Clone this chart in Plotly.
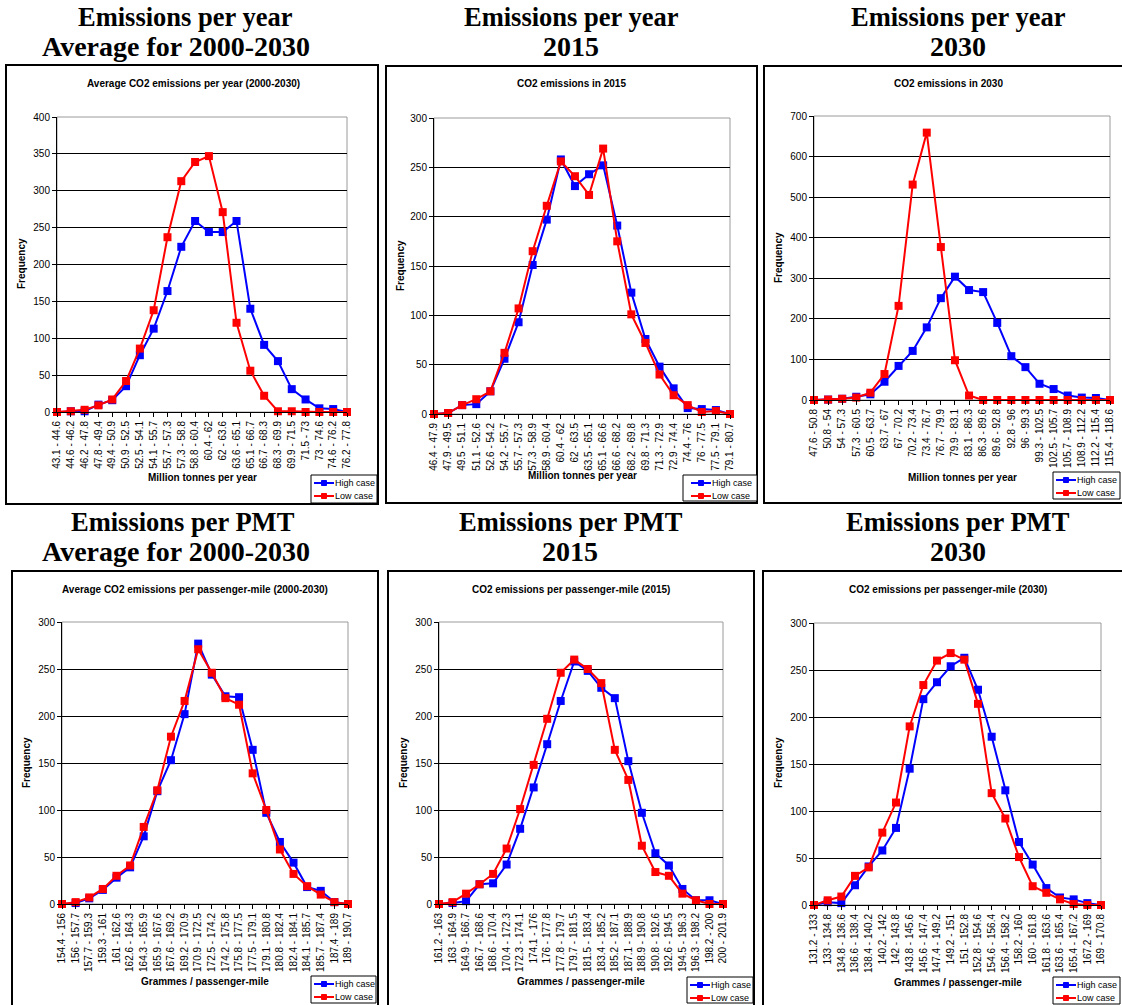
import plotly.graph_objects as go

W, H = 1122, 1005

# ---------------- DATA ----------------
cats1 = ["43.1 - 44.6", "44.6 - 46.2", "46.2 - 47.8", "47.8 - 49.4", "49.4 - 50.9", "50.9 - 52.5",
         "52.5 - 54.1", "54.1 - 55.7", "55.7 - 57.3", "57.3 - 58.8", "58.8 - 60.4", "60.4 - 62",
         "62 - 63.6", "63.6 - 65.1", "65.1 - 66.7", "66.7 - 68.3", "68.3 - 69.9", "69.9 - 71.5",
         "71.5 - 73", "73 - 74.6", "74.6 - 76.2", "76.2 - 77.8"]
high1 = [0, 1, 1, 10, 16, 35, 77, 113, 164, 224, 259, 244, 244, 259, 140, 91, 69, 31, 17, 5, 4, 0]
low1 = [0, 1, 3, 9, 17, 42, 86, 138, 237, 313, 339, 347, 271, 121, 56, 22, 1, 1, 0, 0, 0, 0]

cats2 = ["46.4 - 47.9", "47.9 - 49.5", "49.5 - 51.1", "51.1 - 52.6", "52.6 - 54.2", "54.2 - 55.7",
         "55.7 - 57.3", "57.3 - 58.9", "58.9 - 60.4", "60.4 - 62", "62 - 63.5", "63.5 - 65.1",
         "65.1 - 66.6", "66.6 - 68.2", "68.2 - 69.8", "69.8 - 71.3", "71.3 - 72.9", "72.9 - 74.4",
         "74.4 - 76", "76 - 77.5", "77.5 - 79.1", "79.1 - 80.7"]
high2 = [0, 1, 9, 10, 23, 56, 93, 151, 197, 258, 231, 243, 252, 191, 123, 76, 48, 26, 6, 5, 4, 0]
low2 = [0, 1, 9, 15, 23, 62, 107, 165, 211, 256, 241, 222, 269, 175, 101, 72, 40, 19, 9, 2, 3, 0]

cats3 = ["47.6 - 50.8", "50.8 - 54", "54 - 57.3", "57.3 - 60.5", "60.5 - 63.7", "63.7 - 67",
         "67 - 70.2", "70.2 - 73.4", "73.4 - 76.7", "76.7 - 79.9", "79.9 - 83.1", "83.1 - 86.3",
         "86.3 - 89.6", "89.6 - 92.8", "92.8 - 96", "96 - 99.3", "99.3 - 102.5", "102.5 - 105.7",
         "105.7 - 108.9", "108.9 - 112.2", "112.2 - 115.4", "115.4 - 118.6"]
high3 = [0, 1, 3, 8, 14, 45, 84, 121, 179, 251, 304, 271, 266, 190, 108, 81, 40, 27, 11, 6, 5, 0]
low3 = [0, 1, 3, 6, 18, 64, 232, 531, 659, 377, 98, 11, 0, 0, 0, 0, 0, 0, 0, 0, 0, 0]

cats4 = ["154.4 - 156", "156 - 157.7", "157.7 - 159.3", "159.3 - 161", "161 - 162.6", "162.6 - 164.3",
         "164.3 - 165.9", "165.9 - 167.6", "167.6 - 169.2", "169.2 - 170.9", "170.9 - 172.5",
         "172.5 - 174.2", "174.2 - 175.8", "175.8 - 177.5", "177.5 - 179.1", "179.1 - 180.8",
         "180.8 - 182.4", "182.4 - 184.1", "184.1 - 185.7", "185.7 - 187.4", "187.4 - 189", "189 - 190.7"]
high4 = [0, 1, 6, 15, 28, 39, 72, 120, 153, 202, 277, 244, 221, 220, 164, 97, 66, 44, 18, 14, 2, 0]
low4 = [0, 2, 7, 16, 30, 41, 82, 121, 178, 216, 271, 246, 219, 212, 139, 100, 58, 32, 19, 10, 2, 0]

cats5 = ["161.2 - 163", "163 - 164.9", "164.9 - 166.7", "166.7 - 168.6", "168.6 - 170.4", "170.4 - 172.3",
         "172.3 - 174.1", "174.1 - 176", "176 - 177.8", "177.8 - 179.7", "179.7 - 181.5", "181.5 - 183.4",
         "183.4 - 185.2", "185.2 - 187.1", "187.1 - 188.9", "188.9 - 190.8", "190.8 - 192.6",
         "192.6 - 194.5", "194.5 - 196.3", "196.3 - 198.2", "198.2 - 200", "200 - 201.9"]
high5 = [0, 1, 3, 21, 22, 42, 80, 124, 170, 216, 258, 248, 230, 219, 152, 97, 54, 41, 16, 4, 4, 0]
low5 = [0, 2, 11, 21, 32, 59, 101, 148, 197, 246, 260, 250, 235, 164, 132, 62, 34, 30, 11, 4, 0, 0]

cats6 = ["131.2 - 133", "133 - 134.8", "134.8 - 136.6", "136.6 - 138.4", "138.4 - 140.2", "140.2 - 142",
         "142 - 143.8", "143.8 - 145.6", "145.6 - 147.4", "147.4 - 149.2", "149.2 - 151", "151 - 152.8",
         "152.8 - 154.6", "154.6 - 156.4", "156.4 - 158.2", "158.2 - 160", "160 - 161.8", "161.8 - 163.6",
         "163.6 - 165.4", "165.4 - 167.2", "167.2 - 169", "169 - 170.8"]
high6 = [0, 3, 2, 21, 41, 58, 82, 145, 219, 237, 254, 263, 229, 179, 122, 67, 43, 18, 8, 6, 2, 0]
low6 = [0, 5, 9, 31, 40, 77, 109, 190, 234, 260, 268, 261, 214, 119, 92, 51, 20, 13, 6, 1, 0, 0]

chart_titles = ["Average CO2 emissions per year (2000-2030)", "CO2 emissions in 2015", "CO2 emissions in 2030",
                "Average CO2 emissions per passenger-mile (2000-2030)", "CO2 emissions per passenger-mile (2015)",
                "CO2 emissions per passenger-mile (2030)"]
x_titles = ["Million tonnes per year"] * 3 + ["Grammes / passenger-mile"] * 3
headers_l1 = ["Emissions per year"] * 3 + ["Emissions per PMT"] * 3
headers_l2 = ["Average for 2000-2030", "2015", "2030"] * 2
series_names = ["High case", "Low case"]
y_max = [400, 300, 700, 300, 300, 300]
y_step = [50, 50, 100, 50, 50, 50]

cats = [cats1, cats2, cats3, cats4, cats5, cats6]
highs = [high1, high2, high3, high4, high5, high6]
lows = [low1, low2, low3, low4, low5, low6]

# ---------------- LAYOUT (pixels) ----------------
plot_px = [(57, 347, 117, 412), (434, 730, 118, 414), (814, 1110, 116, 400),
           (62, 348, 622, 904), (439, 723, 622, 904), (814, 1101, 623, 905)]
box_px = [(6, 378, 65, 504), (386, 757, 66, 503), (764, 1130, 66, 503),
          (12, 378, 571, 1015), (388, 754, 571, 1015), (763, 1130, 571, 1015)]
title_px = [(193, 83), (571, 83), (948, 83), (195, 589), (571, 589), (948, 589)]
xtitle_px = [(202, 477), (582, 476), (962, 477), (205, 981), (581, 981), (958, 982)]
ytitle_px = [(21, 264), (400, 266), (778, 258), (26, 763), (403, 763), (778, 763)]
# legend boxes: left, top, right, bottom, key offset
legend_px = [(311, 475, 377, 503, 3), (683, 475, 757, 501, 8), (1053, 472, 1120, 499, 3),
             (311, 976, 376, 1003, 3), (687, 977, 753, 1003, 3), (1053, 977, 1120, 1004, 3)]
# header: x line1, y line1, x line2, y line2
header_px = [(185, 17, 176, 47), (571, 17, 571, 47), (958, 17, 958, 47),
             (183, 522, 176, 551), (571, 522, 570, 551), (958, 522, 958, 551)]

BLUE = "#0000FF"
RED = "#FF0000"
colors = [BLUE, RED]
SANS = "Liberation Sans, Arial, sans-serif"
SERIF = "Liberation Serif, Times New Roman, serif"


def px(x):
    return x / W


def py(y):
    return 1 - y / H


fig = go.Figure()
shapes = []
annotations = []

for i in range(6):
    k = "" if i == 0 else str(i + 1)
    xa, ya = "x" + k, "y" + k
    for name, vals, col in [(series_names[0], highs[i], colors[0]), (series_names[1], lows[i], colors[1])]:
        fig.add_trace(go.Scatter(
            x=cats[i], y=vals, name=name, mode="lines+markers",
            line=dict(color=col, width=2),
            marker=dict(symbol="square", size=8, color=col),
            xaxis=xa, yaxis=ya, showlegend=False, cliponaxis=False))
    l, r, t, b = plot_px[i]
    n = len(cats[i])
    fig.layout["xaxis" + k] = dict(
        domain=[px(l), px(r)], anchor=ya, type="category", range=[0, n - 1],
        tickangle=-90, tickfont=dict(family=SANS, size=10, color="black"),
        ticks="outside", ticklen=4, tickcolor="black", showline=True, linecolor="black",
        linewidth=1, showgrid=False, zeroline=False, automargin=False, fixedrange=True)
    fig.layout["yaxis" + k] = dict(
        domain=[py(b), py(t)], anchor=xa, range=[0, y_max[i]], dtick=y_step[i],
        tickfont=dict(family=SANS, size=10, color="black"),
        ticks="outside", ticklen=4, tickcolor="black", showline=True, linecolor="black",
        linewidth=1, showgrid=True, gridcolor="black", gridwidth=1, zeroline=False,
        automargin=False, fixedrange=True)
    # plot area border (grey)
    shapes.append(dict(type="rect", xref=xa + " domain", yref=ya + " domain", x0=0, x1=1, y0=0, y1=1,
                       line=dict(color="#9a9a9a", width=1), layer="below"))
    # chart box
    bl, br, bt, bb = box_px[i]
    shapes.append(dict(type="rect", xref="paper", yref="paper", x0=px(bl), x1=px(br), y0=py(bb), y1=py(bt),
                       line=dict(color="black", width=2), layer="below"))
    # titles
    tx, ty = title_px[i]
    annotations.append(dict(text="<b>" + chart_titles[i] + "</b>", x=px(tx), y=py(ty), xref="paper", yref="paper",
                            showarrow=False, font=dict(family=SANS, size=10, color="black"),
                            xanchor="center", yanchor="middle"))
    xx, xy = xtitle_px[i]
    annotations.append(dict(text="<b>" + x_titles[i] + "</b>", x=px(xx), y=py(xy), xref="paper", yref="paper",
                            showarrow=False, font=dict(family=SANS, size=10, color="black"),
                            xanchor="center", yanchor="middle"))
    yx, yy = ytitle_px[i]
    annotations.append(dict(text="<b>Frequency</b>", x=px(yx), y=py(yy), xref="paper", yref="paper",
                            showarrow=False, textangle=-90, font=dict(family=SANS, size=10, color="black"),
                            xanchor="center", yanchor="middle"))
    hx1, hy1, hx2, hy2 = header_px[i]
    annotations.append(dict(text="<b>" + headers_l1[i] + "</b>", x=px(hx1), y=py(hy1), xref="paper", yref="paper",
                            showarrow=False, font=dict(family=SERIF, size=26.5, color="black"),
                            xanchor="center", yanchor="middle"))
    annotations.append(dict(text="<b>" + headers_l2[i] + "</b>", x=px(hx2), y=py(hy2), xref="paper", yref="paper",
                            showarrow=False, font=dict(family=SERIF, size=28, color="black"),
                            xanchor="center", yanchor="middle"))
    # legend (box, keys, labels)
    ll, lt, lr, lb, off = legend_px[i]
    shapes.append(dict(type="rect", xref="paper", yref="paper", x0=px(ll), x1=px(lr), y0=py(lb), y1=py(lt),
                       line=dict(color="black", width=1), fillcolor="white", layer="above"))
    for j in range(2):
        ey = lt + 8 + 13 * j
        k0 = ll + off
        shapes.append(dict(type="line", xref="paper", yref="paper", x0=px(k0), x1=px(k0 + 20),
                           y0=py(ey), y1=py(ey), line=dict(color=colors[j], width=2), layer="above"))
        shapes.append(dict(type="rect", xref="paper", yref="paper", x0=px(k0 + 7.5), x1=px(k0 + 12.5),
                           y0=py(ey + 2.5), y1=py(ey - 2.5), line=dict(color=colors[j], width=1),
                           fillcolor=colors[j], layer="above"))
        annotations.append(dict(text=series_names[j], x=px(k0 + 20), y=py(ey), xref="paper", yref="paper",
                                showarrow=False, font=dict(family=SANS, size=9, color="black"),
                                xanchor="left", yanchor="middle", borderpad=0))

fig.update_layout(width=W, height=H, margin=dict(l=0, r=0, t=0, b=0, autoexpand=False),
                  paper_bgcolor="white", plot_bgcolor="white", showlegend=False,
                  shapes=shapes, annotations=annotations)

fig.write_html("out.html")
